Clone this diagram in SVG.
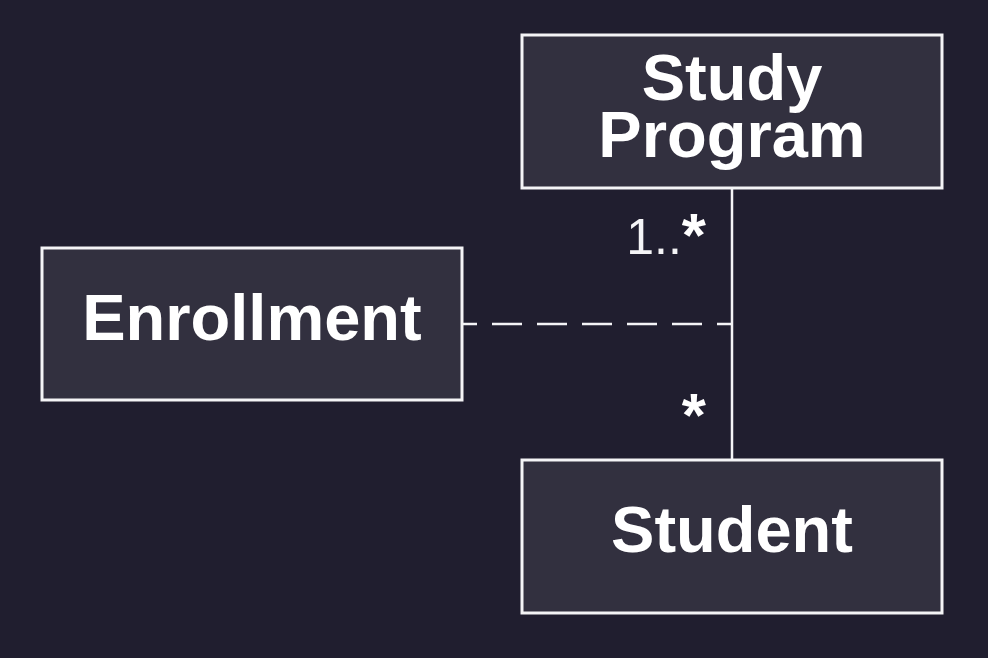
<svg xmlns="http://www.w3.org/2000/svg" width="988" height="658" viewBox="0 0 988 658">
  <style>
    .node rect { fill: #32303f; stroke: #f4f4f6; stroke-width: 3; }
    .node text { font-family: "Liberation Sans", Arial, sans-serif; font-weight: bold; font-size: 65px; fill: #ffffff; text-anchor: middle; }
    .edge { stroke: #f4f4f6; stroke-width: 2.5; fill: none; }
    .mult { font-family: "Liberation Sans", Arial, sans-serif; font-size: 50px; fill: #f4f4f6; text-anchor: end; }
    .star { font-weight: bold; font-size: 62px; fill: #ffffff; }
  </style>
  <rect width="988" height="658" fill="#201e2f"/>

  <g id="connectors">
    <!-- association Study Program – Student -->
    <line class="edge" x1="732" y1="189" x2="732" y2="460"/>
    <!-- association class link -->
    <line class="edge" x1="462" y1="324" x2="732" y2="324" stroke-dasharray="30 15" stroke-dashoffset="15"/>
    <text class="mult" x="706" y="254">1..<tspan class="star" dy="2">*</tspan></text>
    <text class="mult" x="706" y="436"><tspan class="star">*</tspan></text>
  </g>

  <g id="study-program" class="node">
    <rect x="522" y="35" width="420" height="153"/>
    <text x="732" y="100">Study<tspan x="732" dy="57">Program</tspan></text>
  </g>

  <g id="enrollment" class="node">
    <rect x="42" y="248" width="420" height="152"/>
    <text x="252" y="340">Enrollment</text>
  </g>

  <g id="student" class="node">
    <rect x="522" y="460" width="420" height="153"/>
    <text x="732" y="552">Student</text>
  </g>
</svg>
